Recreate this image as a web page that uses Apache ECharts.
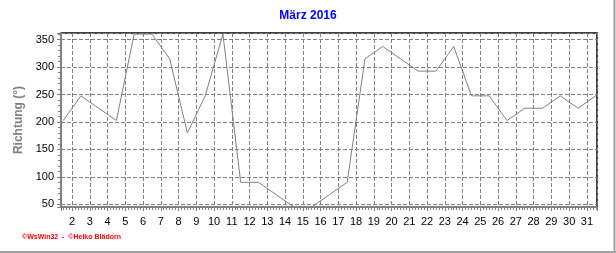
<!DOCTYPE html>
<html>
<head>
<meta charset="utf-8">
<script src="https://cdn.jsdelivr.net/npm/echarts@6/dist/echarts.min.js"></script>
<style>
html,body{margin:0;padding:0;background:#fff;}
#c{width:616px;height:253px;}
</style>
</head>
<body>
<div id="c"></div>
<script>
// Days of March 2016 (daily values plotted at noon of each day)
var days = [1,2,3,4,5,6,7,8,9,10,11,12,13,14,15,16,17,18,19,20,21,22,23,24,25,26,27,28,29,30,31];
// Wind direction (degrees)
var richtung = [202.5,247.5,225,202.5,360,360,315,180,247.5,360,90,90,67.5,45,45,67.5,90,315,337.5,315,292.5,292.5,337.5,247.5,247.5,202.5,225,225,247.5,225,247.5];
var title = 'März 2016';
var yName = 'Richtung (°)';
var footer = '©WsWin32  -  ©Heiko Blädorn';

var data = days.map(function(d, i){ return [d + 0.5, richtung[i]]; });

var chart = echarts.init(document.getElementById('c'), null, {renderer:'canvas'});
var font = 'Liberation Sans, Arial, sans-serif';
chart.setOption({
  animation: false,
  backgroundColor: '#fff',
  title: {
    text: title, left: 'center', top: 10, padding: 0,
    textStyle: {color:'#0000ff', fontSize: 12, fontWeight:'bold', fontFamily: font}
  },
  grid: {
    left: 61, right: 19, top: 33, bottom: 46,
    show: true, borderColor: '#000', borderWidth: 1.5, backgroundColor: 'transparent'
  },
  xAxis: {
    type: 'value', min: 1.38, max: 31.57, splitNumber: 30,
    axisLine: {show: true, onZero: false, lineStyle: {color:'#808080', width: 2}},
    axisTick: {show: true, length: 4, lineStyle:{color:'#808080'}},
    minorTick: {show: true, splitNumber: 6, length: 3, lineStyle:{color:'#808080'}},
    axisLabel: {showMinLabel:false, showMaxLabel:false, color:'#000', fontSize: 11, fontFamily: font, margin: 9},
    splitLine: {show: true, lineStyle: {color:'#808080', type:[4,2], width:1}}
  },
  yAxis: {
    type: 'value', min: 45, max: 362, splitNumber: 6,
    name: yName, nameLocation: 'middle', nameGap: 30,
    nameTextStyle: {color:'#808080', fontSize: 12, fontWeight:'bold', fontFamily: font},
    axisLine: {show: true, onZero: false, lineStyle: {color:'#808080', width: 2}},
    axisTick: {show: true, length: 4, lineStyle:{color:'#808080'}},
    minorTick: {show: true, splitNumber: 5, length: 3, lineStyle:{color:'#808080'}},
    axisLabel: {showMinLabel:false, showMaxLabel:false, color:'#000', fontSize: 11, fontFamily: font, margin: 7},
    splitLine: {show: true, lineStyle: {color:'#808080', type:[4,2], width:1}}
  },
  series: [{
    type: 'line', data: data, showSymbol: false, symbol: 'none', z: 5,
    lineStyle: {color:'#808080', width: 1}, clip: true
  }],
  graphic: [
    {type:'line', shape:{x1:614.5, y1:0, x2:614.5, y2:253}, style:{stroke:'#a0a0a0', lineWidth:2}},
    {type:'line', shape:{x1:0, y1:252, x2:616, y2:252}, style:{stroke:'#a0a0a0', lineWidth:2}},
    {type:'text', left: 22, top: 234, style:{text: footer, fill:'#ff0000', font: 'bold 7px ' + font}}
  ]
});
</script>
</body>
</html>
